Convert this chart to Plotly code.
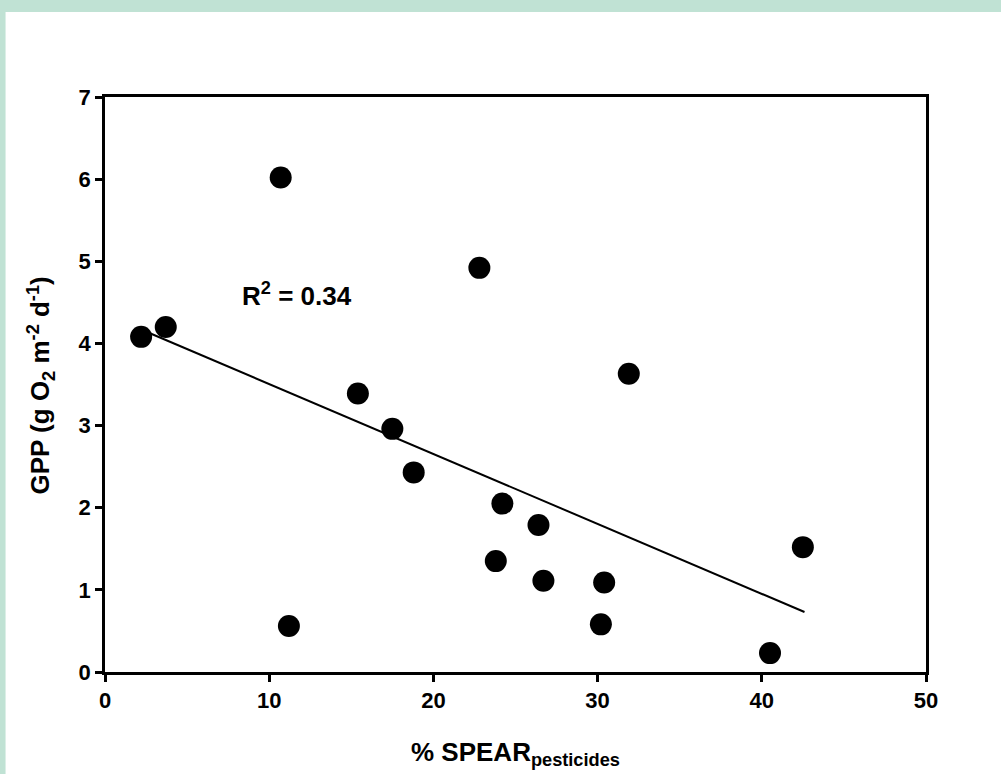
import plotly.graph_objects as go

# Data
spear = [2.2, 3.7, 10.7, 11.2, 15.4, 17.5, 18.8, 22.8, 23.8, 24.2, 26.4, 26.7, 30.2, 30.4, 31.9, 40.5, 42.5]
gpp = [4.08, 4.20, 6.02, 0.56, 3.39, 2.96, 2.43, 4.92, 1.35, 2.05, 1.79, 1.11, 0.58, 1.09, 3.63, 0.23, 1.52]
fit_x = [2.2, 42.6]
fit_y = [4.17, 0.73]
r2_text = "R<sup>2</sup> = 0.34"
x_ticks = [0, 10, 20, 30, 40, 50]
y_ticks = [0, 1, 2, 3, 4, 5, 6, 7]

W, H = 1001, 774
L, R, T, B = 104.5, 926, 97, 672

def px_x(p):
    return (p - L) / (R - L)

def px_y(p):
    return (B - p) / (B - T)

fig = go.Figure()
fig.add_trace(go.Scatter(x=fit_x, y=fit_y, mode="lines",
                         line=dict(color="black", width=2), showlegend=False))
fig.add_trace(go.Scatter(x=spear, y=gpp, mode="markers",
                         marker=dict(color="black", size=22, line=dict(width=0)),
                         showlegend=False))

bold = "Arial, 'Liberation Sans', sans-serif"

fig.update_layout(
    width=W, height=H,
    margin=dict(l=L, r=W - R, t=T, b=H - B, autoexpand=False),
    paper_bgcolor="#C0E2D4",
    plot_bgcolor="white",
    xaxis=dict(range=[0, 50], tickvals=x_ticks, ticktext=[f"<b>{v}</b>" for v in x_ticks],
               showline=True, linecolor="black", linewidth=2.5,
               mirror=True, ticks="outside", ticklen=7, tickwidth=2.5, tickcolor="black",
               showgrid=False, zeroline=False,
               tickfont=dict(family=bold, size=22, color="black")),
    yaxis=dict(range=[0, 7], tickvals=y_ticks, ticktext=[f"<b>{v}</b>" for v in y_ticks],
               showline=True, linecolor="black", linewidth=2.5,
               mirror=True, ticks="outside", ticklen=7, tickwidth=2.5, tickcolor="black",
               showgrid=False, zeroline=False,
               tickfont=dict(family=bold, size=22, color="black")),
    shapes=[dict(type="rect", xref="paper", yref="paper", layer="below",
                 x0=px_x(5), x1=px_x(W + 5), y0=px_y(H + 5), y1=px_y(12),
                 fillcolor="white", line=dict(width=0))],
    annotations=[
        dict(text="<b>" + r2_text + "</b>", x=11.7, y=4.59, xref="x", yref="y", showarrow=False,
             font=dict(family=bold, size=26, color="black")),
        dict(text="<b>% SPEAR<sub>pesticides</sub></b>", x=px_x(515), y=px_y(753),
             xref="paper", yref="paper", showarrow=False, yanchor="middle",
             font=dict(family=bold, size=26, color="black")),
        dict(text="<b>GPP (g O<sub>2</sub> m<sup>-2</sup> d<sup>-1</sup>)</b>", x=px_x(40), y=px_y(386),
             xref="paper", yref="paper", showarrow=False, textangle=-90,
             xanchor="center", yanchor="middle",
             font=dict(family=bold, size=26, color="black")),
    ],
)

fig.write_html("out.html", post_script="document.body.style.margin='0';",
               config={"displayModeBar": False})
